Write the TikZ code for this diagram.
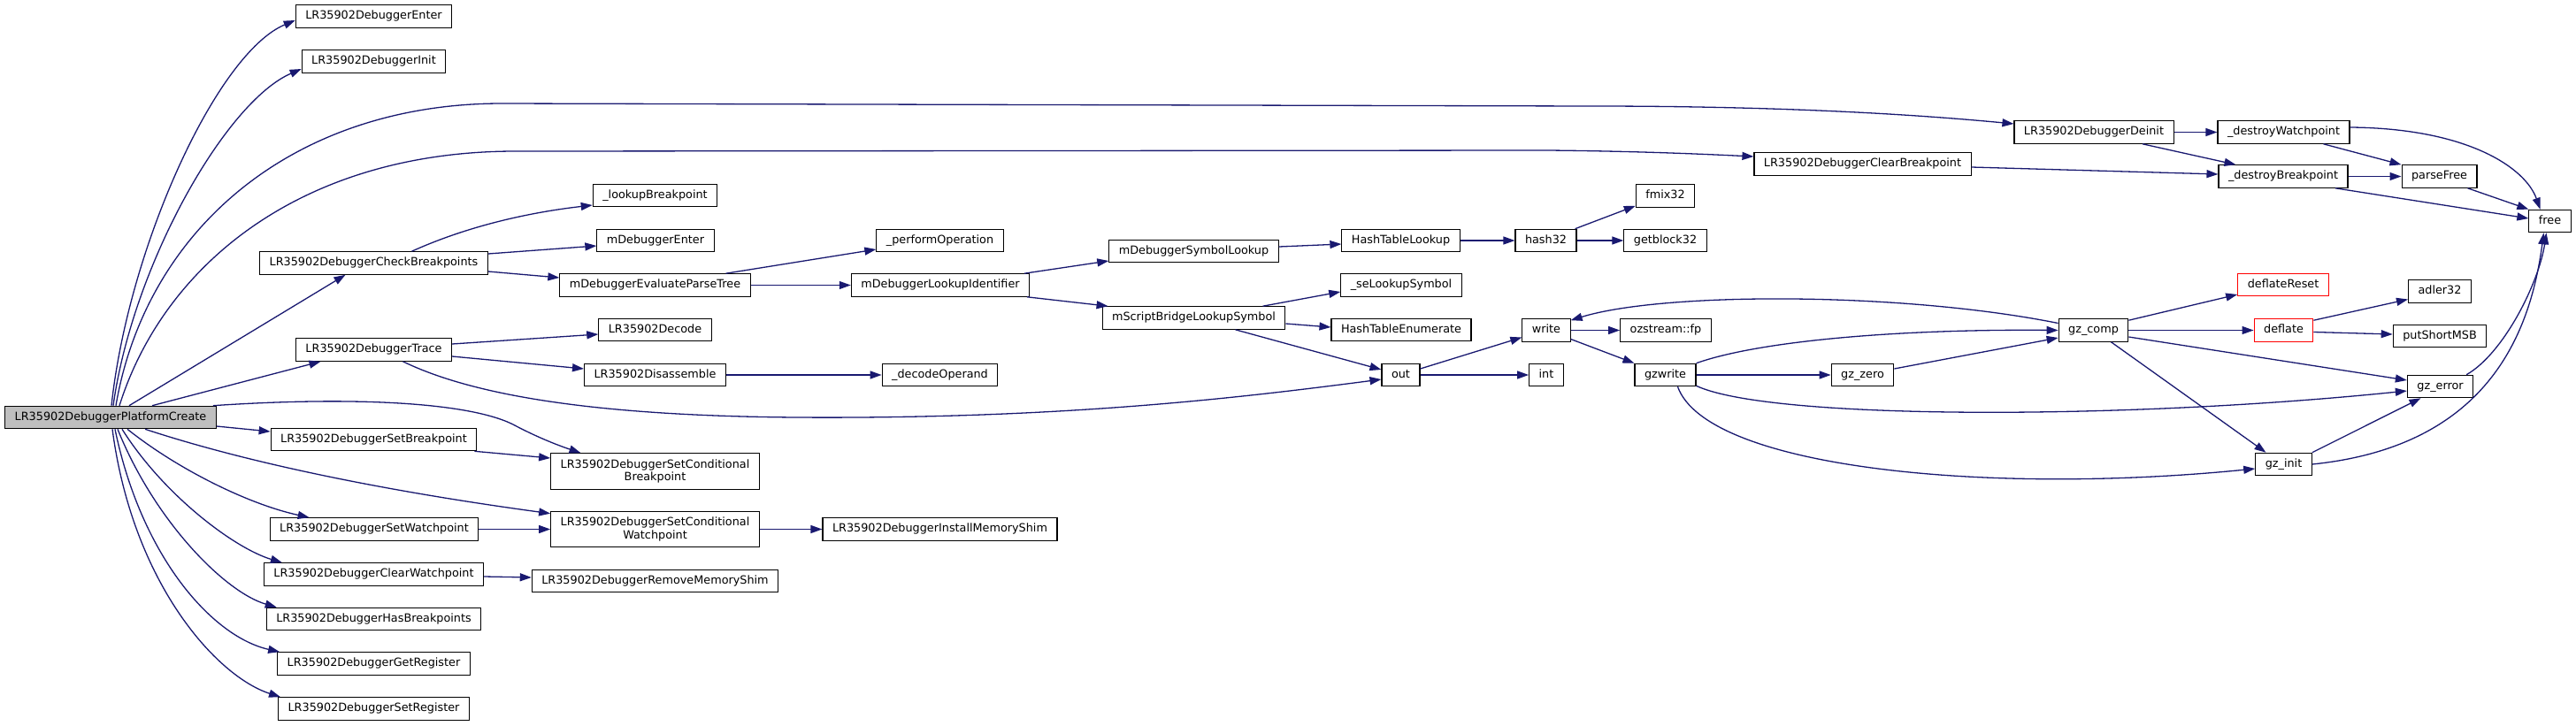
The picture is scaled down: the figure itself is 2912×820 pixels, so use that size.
\documentclass[tikz,border=0pt]{standalone}
\usepackage{fontspec}
\setmainfont{DejaVu Sans}
\usetikzlibrary{arrows.meta,calc}
\definecolor{EdgeBlue}{HTML}{191970}
\definecolor{RootGray}{HTML}{BFBFBF}
\definecolor{TruncRed}{HTML}{FF0000}
\newcommand{\Lbl}{\fontsize{12.8}{14.5}\selectfont}
\tikzset{
  fnbase/.style={draw=black, line width=1.1pt, fill=white, inner xsep=11pt, font=\Lbl},
  fn/.style={fnbase, inner ysep=0pt, minimum height=25.5pt, text height=9.6pt, text depth=2.9pt},
  fnroot/.style={fn, fill=RootGray},
  fntrunc/.style={fn, draw=TruncRed},
  fntwo/.style={fnbase, align=center, minimum height=40.5pt, inner ysep=3pt},
  call/.style={-{Triangle[length=13pt,width=9pt]}, line width=1.3pt, EdgeBlue},
}

\begin{document}
\begin{tikzpicture}[x=1pt, y=-1pt]
  \useasboundingbox (0,0) rectangle (2912,820);

  % functions, column by column
  \node[fnroot] (pc) at (125,472) {LR35902DebuggerPlatformCreate};

  \node[fn] (enter) at (422.5,18.5) {LR35902DebuggerEnter};
  \node[fn] (init) at (422.5,69.5) {LR35902DebuggerInit};
  \node[fn] (checkbp) at (422.5,297.5) {LR35902DebuggerCheckBreakpoints};
  \node[fn] (trace) at (422.5,395.5) {LR35902DebuggerTrace};
  \node[fn] (setbp) at (422.5,497) {LR35902DebuggerSetBreakpoint};
  \node[fn] (setwp) at (423,598.5) {LR35902DebuggerSetWatchpoint};
  \node[fn] (clearwp) at (422.5,649.5) {LR35902DebuggerClearWatchpoint};
  \node[fn] (hasbp) at (422.5,700) {LR35902DebuggerHasBreakpoints};
  \node[fn] (getreg) at (422.5,750.5) {LR35902DebuggerGetRegister};
  \node[fn] (setreg) at (422.5,801.5) {LR35902DebuggerSetRegister};

  \node[fn] (lookupbp) at (740.5,221) {\_lookupBreakpoint};
  \node[fn] (mdbgenter) at (741,272) {mDebuggerEnter};
  \node[fn] (evaltree) at (740.5,322.5) {mDebuggerEvaluateParseTree};
  \node[fn] (decode) at (740.5,373) {LR35902Decode};
  \node[fn] (disasm) at (740.5,424) {LR35902Disassemble};
  \node[fntwo] (setcondbp) at (740.5,533) {LR35902DebuggerSetConditional\\Breakpoint};
  \node[fntwo] (setcondwp) at (740.5,598.5) {LR35902DebuggerSetConditional\\Watchpoint};
  \node[fn] (rmshim) at (740.5,657) {LR35902DebuggerRemoveMemoryShim};

  \node[fn] (performop) at (1062.5,272) {\_performOperation};
  \node[fn] (lookupid) at (1063,322.5) {mDebuggerLookupIdentifier};
  \node[fn] (decodeop) at (1062.5,424) {\_decodeOperand};
  \node[fn] (instshim) at (1062.5,598.5) {LR35902DebuggerInstallMemoryShim};

  \node[fn] (symlookup) at (1349.5,284) {mDebuggerSymbolLookup};
  \node[fn] (sbsymbol) at (1349.5,359.5) {mScriptBridgeLookupSymbol};

  \node[fn] (htlookup) at (1583.5,272) {HashTableLookup};
  \node[fn] (selookup) at (1584,322.5) {\_seLookupSymbol};
  \node[fn] (htenum) at (1584,373) {HashTableEnumerate};
  \node[fn] (fout) at (1583.5,424) {out};

  \node[fn] (hash) at (1747.5,272) {hash32};
  \node[fn] (fwrite) at (1748,373.5) {write};
  \node[fn] (fint) at (1748,424) {int};

  \node[fn] (fmix) at (1882.5,221.5) {fmix32};
  \node[fn] (getblock) at (1882.5,272) {getblock32};
  \node[fn] (ozfp) at (1883,373.5) {ozstream::fp};
  \node[fn] (gzwrite) at (1882.5,424) {gzwrite};

  \node[fn] (clearbp) at (2105.5,185.5) {LR35902DebuggerClearBreakpoint};
  \node[fn] (gzzero) at (2105.5,424) {gz\_zero};

  \node[fn] (deinit) at (2367,149.5) {LR35902DebuggerDeinit};
  \node[fn] (gzcomp) at (2366.5,373.5) {gz\_comp};

  \node[fn] (destroywp) at (2581.5,149.5) {\_destroyWatchpoint};
  \node[fn] (destroybp) at (2581,199.5) {\_destroyBreakpoint};
  \node[fntrunc] (deflreset) at (2581,322) {deflateReset};
  \node[fntrunc] (deflate) at (2581.5,373.5) {deflate};
  \node[fn] (gzinit) at (2581.5,525) {gz\_init};

  \node[fn] (parsefree) at (2757.5,199.5) {parseFree};
  \node[fn] (adler) at (2758,329.5) {adler32};
  \node[fn] (putmsb) at (2758,380) {putShortMSB};
  \node[fn] (gzerror) at (2758.5,437) {gz\_error};

  \node[fn] (ffree) at (2882.5,250) {free};

  % calls out of the root
  \draw[call] ($(pc.north)+(1,0)$) .. controls (145,280) and (245,60) .. ($(enter.west)+(0,4.5)$);
  \draw[call] ($(pc.north)+(3,0)$) .. controls (150,300) and (255,115) .. ($(init.west)+(0,8.5)$);
  \draw[call] ($(pc.north)+(6,0)$) .. controls (165,260) and (330,118) .. (565,117) -- (1800,120)
    .. controls (2000,120) and (2150,128) .. ($(deinit.west)+(0,-9.5)$);
  \draw[call] ($(pc.north)+(10,0)$) .. controls (185,300) and (340,172) .. (580,171) -- (1750,170)
    .. controls (1850,171) and (1920,174) .. ($(clearbp.west)+(0,-8.5)$);
  \draw[call] ($(pc.north)+(21,0)$) -- ($(checkbp.south)+(-32,0)$);
  \draw[call] ($(pc.north)+(47,0)$) -- ($(trace.south)+(-60,0)$);
  \draw[call] ($(pc.east)+(0,10)$) -- ($(setbp.west)+(0,-9)$);
  \draw[call] ($(pc.north east)+(-4,0)$) .. controls (400,448) and (530,455) .. (580,480)
    .. controls (610,496) and (635,505) .. ($(setcondbp.north)+(-84,0)$);
  \draw[call] ($(pc.south)+(39,0)$) .. controls (300,530) and (470,560) .. ($(setcondwp.north west)+(0,3)$);
  \draw[call] ($(pc.south)+(19,0)$) .. controls (200,530) and (280,570) .. ($(setwp.north west)+(45,0)$);
  \draw[call] ($(pc.south)+(13,0)$) .. controls (185,560) and (265,620) .. ($(clearwp.north west)+(21,0)$);
  \draw[call] ($(pc.south)+(8,0)$) .. controls (175,590) and (255,670) .. ($(hasbp.north west)+(12,0)$);
  \draw[call] ($(pc.south)+(5,0)$) .. controls (160,630) and (240,720) .. ($(getreg.north west)+(3,0)$);
  \draw[call] ($(pc.south)+(2,0)$) .. controls (150,660) and (245,765) .. ($(setreg.north west)+(3,0)$);

  % breakpoints and trace
  \draw[call] ($(checkbp.north)+(43,0)$) .. controls (530,255) and (600,240) .. ($(lookupbp.west)+(0,11)$);
  \draw[call] ($(checkbp.east)+(0,-10.5)$) -- ($(mdbgenter.west)+(0,6)$);
  \draw[call] ($(checkbp.east)+(0,9.5)$) -- ($(evaltree.west)+(0,-8.5)$);
  \draw[call] ($(trace.east)+(0,-6.5)$) -- ($(decode.west)+(0,5)$);
  \draw[call] ($(trace.east)+(0,7.5)$) -- ($(disasm.west)+(0,-7)$);
  \draw[call] ($(trace.south)+(33,0)$) .. controls (520,440) and (640,470) .. (900,472)
    .. controls (1200,474) and (1400,450) .. ($(fout.west)+(0,5)$);
  \draw[call] (disasm) -- (decodeop);
  \draw[call] ($(setbp.south east)+(-3,0)$) -- ($(setcondbp.west)+(0,-15)$);
  \draw[call] (setwp) -- (setcondwp);
  \draw[call] (setcondwp) -- (instshim);
  \draw[call] ($(clearwp.east)+(0,2.5)$) -- ($(rmshim.west)+(0,-4)$);

  % symbol lookup
  \draw[call] ($(evaltree.north)+(80,0)$) -- ($(performop.west)+(0,10)$);
  \draw[call] (evaltree) -- (lookupid);
  \draw[call] ($(lookupid.north)+(95,0)$) -- ($(symlookup.west)+(0,11)$);
  \draw[call] ($(lookupid.south)+(98,0)$) -- ($(sbsymbol.north west)+(7,0)$);
  \draw[call] ($(symlookup.east)+(0,-5)$) -- ($(htlookup.west)+(0,4)$);
  \draw[call] (htlookup) -- (hash);
  \draw[call] ($(hash.north east)+(-2,0)$) -- ($(fmix.south west)+(0,-2)$);
  \draw[call] (hash) -- (getblock);
  \draw[call] ($(sbsymbol.north)+(78,0)$) -- ($(selookup.west)+(0,7.5)$);
  \draw[call] ($(sbsymbol.east)+(0,6.5)$) -- ($(htenum.west)+(0,-3)$);
  \draw[call] ($(sbsymbol.south)+(47,0)$) -- ($(fout.west)+(0,-6)$);

  % output and zlib
  \draw[call] ($(fout.east)+(0,-7)$) -- ($(fwrite.west)+(0,8)$);
  \draw[call] (fout) -- (fint);
  \draw[call] (fwrite) -- (ozfp);
  \draw[call] ($(fwrite.east)+(0,10)$) -- (gzwrite.north west);
  \draw[call] (gzwrite) -- (gzzero);
  \draw[call] (gzwrite.north east) .. controls (1990,385) and (2150,372) .. (gzcomp.west);
  \draw[call] ($(gzzero.east)+(0,-7)$) -- ($(gzcomp.west)+(0,8.5)$);
  \draw[call] ($(gzwrite.south east)+(0,-1)$) .. controls (2000,475) and (2400,475) .. ($(gzerror.west)+(0,5)$);
  \draw[call] ($(gzwrite.south)+(14,0)$) .. controls (1930,530) and (2250,560) .. ($(gzinit.west)+(0,5)$);
  \draw[call] ($(gzcomp.west)+(0,-8)$) .. controls (2150,330) and (1880,330) .. ($(fwrite.north east)+(0,2)$);
  \draw[call] ($(gzcomp.north east)+(0,2)$) -- ($(deflreset.west)+(0,11)$);
  \draw[call] (gzcomp) -- (deflate);
  \draw[call] ($(gzcomp.east)+(0,7.5)$) -- ($(gzerror.west)+(0,-7)$);
  \draw[call] ($(gzcomp.south)+(20,0)$) -- ($(gzinit.north)+(-20,0)$);
  \draw[call] ($(deflate.north east)+(0,2)$) -- ($(adler.west)+(0,9)$);
  \draw[call] ($(deflate.east)+(0,2)$) -- ($(putmsb.west)+(0,-2)$);
  \draw[call] (gzinit.north east) -- ($(gzerror.south)+(-22,0)$);
  \draw[call] (gzinit.east) .. controls (2810,505) and (2860,380) .. ($(ffree.south)+(-7,0)$);
  \draw[call] ($(gzerror.north east)+(-8,0)$) .. controls (2830,400) and (2870,320) .. ($(ffree.south)+(-4,0)$);

  % teardown
  \draw[call] (deinit) -- (destroywp);
  \draw[call] ($(deinit.south)+(55,0)$) -- ($(destroybp.north west)+(20,0)$);
  \draw[call] ($(clearbp.east)+(0,3.5)$) -- ($(destroybp.west)+(0,-2.5)$);
  \draw[call] ($(destroywp.south)+(45,0)$) -- (parsefree.north west);
  \draw[call] ($(destroywp.east)+(0,-5.5)$) .. controls (2790,145) and (2855,190) .. ($(ffree.north)+(-11,0)$);
  \draw[call] (destroybp) -- (parsefree);
  \draw[call] ($(destroybp.south)+(59,0)$) -- ($(ffree.west)+(0,-3)$);
  \draw[call] ($(parsefree.south)+(32,0)$) -- (ffree.north west);
\end{tikzpicture}
\end{document}
